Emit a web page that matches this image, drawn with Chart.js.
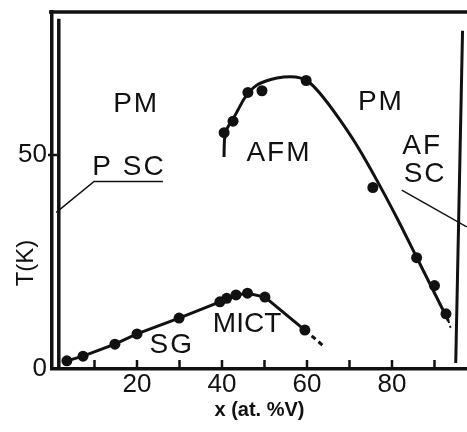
<!DOCTYPE html>
<html><head><meta charset="utf-8">
<script src="https://cdn.jsdelivr.net/npm/chart.js@4/dist/chart.umd.min.js"></script>
<style>html,body{margin:0;padding:0;background:#fff}canvas{display:block}</style>
</head><body>
<canvas id="c" width="467" height="432"></canvas>
<script>
// ---- axis ranges and ticks ----
const X_MIN = 0, X_MAX = 97.65, Y_MIN = 0, Y_MAX = 83.4;
const xTickValues = [0, 10, 20, 30, 40, 50, 60, 70, 80, 90];
const xTickLabels = [20, 40, 60, 80];
const yTickValues = [0, 50];
const yTickLabels = [0, 50];

// ---- SG / MICT measured points ----
const sgX = [3.5, 7.3, 14.8, 20.0, 29.9, 39.5, 41.1, 43.3, 46.0, 50.1, 59.5];
const sgT = [1.9, 3.0, 5.8, 8.2, 11.9, 15.7, 16.5, 17.3, 17.7, 16.8, 9.1];
const sgDashX = [59.5, 64.2];
const sgDashT = [9.1, 5.1];

// ---- AFM measured points ----
const afmX = [40.5, 42.6, 46.1, 49.4, 59.8, 75.5, 85.8, 90.0, 92.7];
const afmT = [55.2, 57.9, 64.6, 65.0, 67.4, 42.4, 26.0, 19.5, 12.9];

// ---- AFM phase boundary (traced curve) ----
const afmCurveX = [40.47, 40.59, 40.94, 41.65, 42.59, 43.76, 45.18, 46.59, 48.24, 50.35, 52.94, 56.0, 58.35, 60.71, 63.76, 67.76, 72.0, 76.71, 81.41, 85.88, 92.71, 93.29];
const afmCurveT = [49.53, 53.5, 55.61, 57.01, 58.41, 60.51, 63.08, 64.95, 66.36, 67.29, 68.0, 68.29, 68.0, 66.82, 63.55, 58.18, 51.8, 43.6, 34.81, 25.93, 12.38, 11.2];
const afmDashX = [93.29, 93.8];
const afmDashT = [11.2, 9.6];

// ---- superconducting boundaries ----
const leftBoundX = [1.6, 1.6];
const leftBoundT = [0.3, 81.8];
const rightBoundX = [96.6, 95.0];
const rightBoundT = [79.0, 1.4];

// ---- label pointer lines ----
const pscPointerX = [1.0, 9.9, 26.1];
const pscPointerT = [36.6, 43.8, 43.8];
const afscPointerX = [82.3, 97.6];
const afscPointerT = [41.8, 33.2];

// ---- region labels ----
const regionText = ['PM', 'P SC', 'PM', 'AFM', 'AF', 'SC', 'SG', 'MICT'];
const regionX = [19.8, 18.1, 77.4, 53.4, 87.1, 87.8, 28.2, 45.9];
const regionT = [62.4, 47.7, 62.9, 50.9, 52.6, 46.0, 6.1, 11.0];

const INK = '#111';
const FAMILY = '"Liberation Sans", Arial, Helvetica, sans-serif';
Chart.defaults.font.family = FAMILY;
Chart.defaults.color = INK;

const pts = (xs, ys) => xs.map((v, i) => ({x: v, y: ys[i]}));

function lineDs(xs, ys, opts) {
  return Object.assign({
    data: pts(xs, ys), showLine: true, borderColor: INK, borderWidth: 3,
    pointRadius: 0, tension: 0, fill: false, borderCapStyle: 'butt', clip: false
  }, opts || {});
}

const decor = {
  id: 'decor',
  afterDatasetsDraw(chart) {
    const {ctx, chartArea: a, scales: {x, y}} = chart;
    ctx.save();
    ctx.strokeStyle = INK;
    ctx.fillStyle = INK;
    // top frame line
    ctx.lineWidth = 3.5;
    ctx.beginPath();
    ctx.moveTo(a.left - 3, a.top);
    ctx.lineTo(a.right, a.top);
    ctx.stroke();
    // inward tick marks
    ctx.lineWidth = 2.5;
    ctx.beginPath();
    x.ticks.forEach(t => {
      if (t.value <= X_MIN) return;
      const px = x.getPixelForValue(t.value);
      ctx.moveTo(px, a.bottom);
      ctx.lineTo(px, a.bottom - 9);
    });
    y.ticks.forEach(t => {
      if (t.value <= Y_MIN) return;
      const py = y.getPixelForValue(t.value);
      ctx.moveTo(a.left - 4, py);
      ctx.lineTo(a.left + 5, py);
    });
    ctx.stroke();
    // region labels
    const fs = 28;
    ctx.font = fs + 'px ' + FAMILY;
    ctx.textAlign = 'center';
    ctx.textBaseline = 'alphabetic';
    regionText.forEach((s, i) => {
      ctx.letterSpacing = s === 'MICT' ? '0px' : '2px';
      ctx.fillText(s, x.getPixelForValue(regionX[i]), y.getPixelForValue(regionT[i]) + fs * 0.358);
    });
    ctx.restore();
    // y axis title
    ctx.save();
    ctx.font = '24px ' + FAMILY;
    ctx.fillStyle = INK;
    ctx.textAlign = 'center';
    ctx.textBaseline = 'middle';
    ctx.translate(26, 263);
    ctx.rotate(-Math.PI / 2);
    ctx.fillText('T(K)', 0, 0);
    ctx.restore();
  }
};

new Chart(document.getElementById('c'), {
  type: 'scatter',
  data: {
    datasets: [
      lineDs(leftBoundX, leftBoundT, {borderWidth: 3.5}),
      lineDs(rightBoundX, rightBoundT, {borderWidth: 3}),
      lineDs(pscPointerX, pscPointerT, {borderWidth: 1.5}),
      lineDs(afscPointerX, afscPointerT, {borderWidth: 1.5}),
      lineDs(sgX, sgT, {pointRadius: 5.5, pointBackgroundColor: INK, pointBorderWidth: 0}),
      lineDs(sgDashX, sgDashT, {borderDash: [5, 4]}),
      lineDs(afmCurveX, afmCurveT, {tension: 0.3}),
      lineDs(afmDashX, afmDashT, {borderDash: [2, 3], borderWidth: 2}),
      {data: pts(afmX, afmT), showLine: false, pointRadius: 5.5, pointBackgroundColor: INK, pointBorderWidth: 0, clip: false}
    ]
  },
  options: {
    responsive: false,
    animation: false,
    devicePixelRatio: 1,
    layout: {autoPadding: false, padding: {top: 12, bottom: 10, left: 0, right: 0}},
    plugins: {legend: {display: false}, tooltip: {enabled: false}},
    scales: {
      x: {
        type: 'linear', min: X_MIN, max: X_MAX,
        grid: {display: false, drawTicks: false},
        border: {display: true, width: 3.5, color: INK},
        afterBuildTicks: s => { s.ticks = xTickValues.map(v => ({value: v})); },
        afterFit: s => { s.height = 53; s.paddingLeft = 0; s.paddingRight = 0; },
        ticks: {
          autoSkip: false, maxRotation: 0, padding: 0, color: INK,
          font: {size: 26},
          callback: v => xTickLabels.includes(v) ? String(v) : ''
        },
        title: {display: true, text: 'x (at. %V)', color: INK, font: {size: 20, weight: 'bold'}, padding: 0}
      },
      y: {
        type: 'linear', min: Y_MIN, max: Y_MAX,
        grid: {display: false, drawTicks: false},
        border: {display: true, width: 3.5, color: INK},
        afterBuildTicks: s => { s.ticks = yTickValues.map(v => ({value: v})); },
        afterFit: s => { s.width = 52; s.paddingTop = 0; s.paddingBottom = 0; },
        ticks: {
          autoSkip: false, padding: 5, color: INK,
          font: {size: 26},
          callback: v => yTickLabels.includes(v) ? String(v) : ''
        }
      }
    }
  },
  plugins: [decor]
});
</script>
</body></html>
